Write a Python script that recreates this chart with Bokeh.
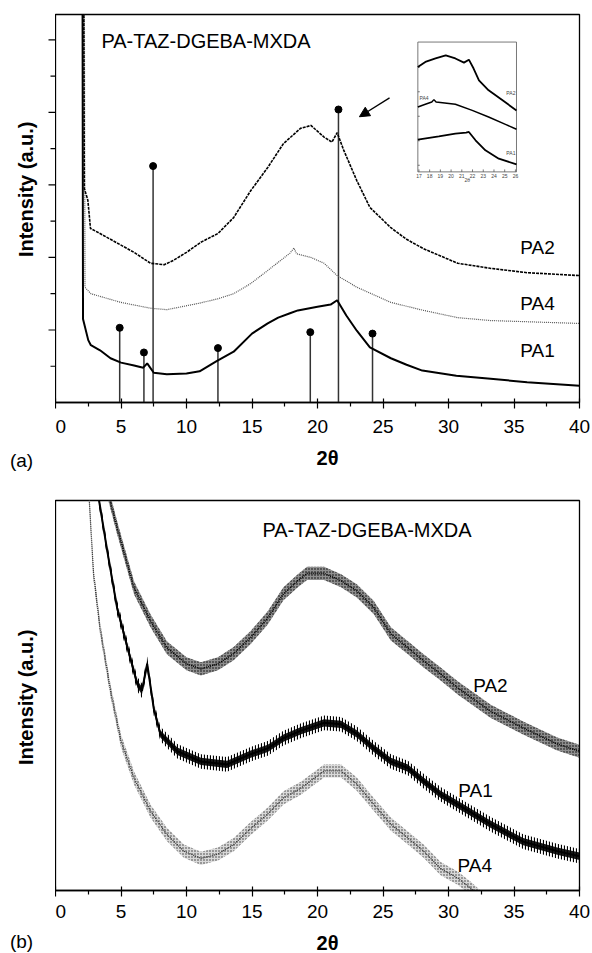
import numpy as np
from bokeh.plotting import figure
from bokeh.layouts import column, row
from bokeh.models import Range1d, FixedTicker, Arrow, NormalHead
from bokeh.embed import file_html
from bokeh.resources import INLINE
from bokeh.core.properties import value

FONT = "Liberation Sans"

# ---------------- data: panel (a) ----------------
a_pa1_x = [2.06, 2.1, 2.5, 2.7, 3.4, 4.2, 5.0, 6.0, 6.7, 7.0, 7.5, 8.5, 10.0, 11.0, 12.3, 13.6,
           15.0, 16.2, 17.0, 17.9, 18.5, 20.0, 21.0, 21.5, 22.2, 23.0, 24.0, 25.6, 26.8, 28.0, 30.6,
           33.0, 36.0, 40.0]
a_pa1_y = [6.0, 1.15, 0.86, 0.79, 0.72, 0.61, 0.55, 0.51, 0.48, 0.54, 0.41, 0.39, 0.40, 0.43, 0.57, 0.70,
           0.95, 1.09, 1.17, 1.23, 1.27, 1.32, 1.35, 1.41, 1.20, 0.99, 0.76, 0.61, 0.52, 0.44, 0.37,
           0.33, 0.28, 0.23]

a_pa2_x = [2.15, 2.2, 2.47, 2.67, 3.4, 5.0, 6.0, 7.25, 8.3, 9.0, 10.0, 11.1, 12.4, 13.6, 14.9, 16.2,
           17.4, 18.7, 19.5, 20.5, 21.1, 21.5, 22.0, 23.0, 24.0, 25.6, 26.8, 28.1, 30.7, 33.2, 36.0, 40.0]
a_pa2_y = [6.0, 2.95, 2.79, 2.40, 2.33, 2.17, 2.07, 1.92, 1.90, 1.96, 2.07, 2.21, 2.33, 2.55, 2.92, 3.24,
           3.57, 3.78, 3.82, 3.66, 3.59, 3.72, 3.48, 3.06, 2.69, 2.41, 2.25, 2.12, 1.92, 1.85, 1.79, 1.75]

a_pa4_x = [2.2, 2.25, 2.7, 5.0, 7.25, 8.5, 11.0, 12.4, 13.6, 14.9, 16.2, 17.9, 18.2, 18.4, 19.5, 20.5,
           21.5, 23.0, 25.6, 28.1, 30.7, 33.2, 40.0]
a_pa4_y = [6.0, 1.59, 1.50, 1.38, 1.30, 1.28, 1.37, 1.43, 1.50, 1.64, 1.82, 2.06, 2.13, 2.05, 2.00, 1.92,
           1.75, 1.59, 1.38, 1.27, 1.17, 1.13, 1.09]

stick_x = [4.9, 6.75, 7.45, 12.4, 19.45, 21.6, 24.2]
stick_h = [1.03, 0.69, 3.26, 0.75, 0.97, 4.04, 0.95]

# inset (17-26 deg zoom)
in_pa2_x = [16.9, 17.6, 18.55, 19.5, 20.4, 21.2, 21.66, 22.1, 22.6, 23.5, 24.8, 26.1]
in_pa2_y = [5.01, 5.22, 5.36, 5.49, 5.36, 5.19, 5.31, 4.95, 4.47, 4.06, 3.65, 3.24]
in_pa4_x = [16.9, 17.6, 18.2, 18.4, 18.6, 20.4, 21.97, 23.5, 25.07, 26.1]
in_pa4_y = [3.38, 3.49, 3.58, 3.68, 3.58, 3.49, 3.24, 2.97, 2.67, 2.47]
in_pa1_x = [16.9, 18.86, 20.4, 21.4, 21.66, 22.28, 23.2, 24.45, 26.1]
in_pa1_y = [2.05, 2.18, 2.29, 2.33, 2.36, 2.02, 1.61, 1.27, 1.04]
in_x_ticks = [17, 18, 19, 20, 21, 22, 23, 24, 25, 26]
in_y_ticks = [1, 2, 3, 4, 5]

# ---------------- data: panel (b) ----------------
b_pa2_x = [3.8, 4.7, 6.0, 7.25, 8.5, 10.0, 11.1, 12.4, 13.6, 14.9, 16.2, 17.4, 18.5, 19.2, 20.5,
           21.8, 23.0, 24.3, 25.6, 26.9, 28.1, 29.4, 30.7, 33.2, 35.7, 38.3, 40.0]
b_pa2_y = [5.6, 4.98, 4.15, 3.70, 3.33, 3.11, 3.04, 3.11, 3.25, 3.47, 3.74, 4.07, 4.25, 4.35, 4.35,
           4.25, 4.11, 3.88, 3.52, 3.33, 3.15, 2.97, 2.78, 2.46, 2.23, 2.01, 1.91]

b_pa1_x = [3.1, 3.95, 4.7, 5.5, 6.25, 6.6, 7.0, 7.5, 8.0, 9.3, 11.1, 13.1, 14.9, 16.2, 17.4, 18.7,
           20.5, 21.8, 23.0, 24.3, 25.6, 26.9, 28.1, 29.4, 30.7, 33.2, 35.7, 38.3, 40.0]
b_pa1_y = [5.6, 4.66, 3.88, 3.33, 2.83, 2.74, 3.11, 2.50, 2.15, 1.91, 1.77, 1.73, 1.87, 1.95, 2.09, 2.19,
           2.30, 2.28, 2.15, 1.95, 1.77, 1.68, 1.50, 1.32, 1.18, 0.91, 0.67, 0.54, 0.47]

b_pa4_x = [2.5, 2.9, 3.4, 4.2, 5.0, 6.0, 7.25, 8.5, 9.8, 11.1, 12.4, 13.6, 14.9, 16.2, 17.4, 18.7,
           20.5, 21.8, 23.0, 24.3, 25.6, 26.9, 28.1, 29.4, 30.7, 31.7, 32.5]
b_pa4_y = [5.6, 4.35, 3.60, 2.74, 2.05, 1.54, 1.09, 0.77, 0.54, 0.44, 0.50, 0.63, 0.85, 1.05, 1.27, 1.40,
           1.64, 1.64, 1.46, 1.18, 0.91, 0.72, 0.54, 0.30, 0.17, 0.03, -0.1]

x_ticks = [0, 5, 10, 15, 20, 25, 30, 35, 40]
x_minor = [2.5, 7.5, 12.5, 17.5, 22.5, 27.5, 32.5, 37.5]
y_ticks = [1, 2, 3, 4, 5]
y_minor = [0.5, 1.5, 2.5, 3.5, 4.5]

title_text = "PA-TAZ-DGEBA-MXDA"
ylabel_text = "Intensity (a.u.)"
xlabel_text = "2θ"


def main_fig(height, top, bottom, y_range):
    p = figure(width=537, height=height, x_range=Range1d(0, 40), y_range=y_range,
               output_backend="svg", toolbar_location=None, y_axis_location=None,
               min_border_left=0, min_border_right=13, min_border_top=top, min_border_bottom=bottom)
    p.xgrid.visible = False
    p.ygrid.visible = False
    p.outline_line_color = "black"
    p.outline_line_width = 1.3
    xa = p.xaxis[0]
    xa.ticker = FixedTicker(ticks=x_ticks, minor_ticks=x_minor)
    xa.major_label_text_font = FONT
    xa.major_label_text_font_size = "19px"
    xa.major_label_text_color = "black"
    xa.axis_line_color = "black"
    xa.axis_line_width = 1.3
    xa.major_tick_in = 4
    xa.major_tick_out = 6
    xa.minor_tick_in = 0
    xa.minor_tick_out = 4
    xa.major_tick_line_color = "black"
    xa.minor_tick_line_color = "black"
    xa.major_tick_line_width = 1.2
    xa.minor_tick_line_width = 1.2
    return p


def side_fig(height, top, bottom, y_range):
    s = figure(width=55, height=height, x_range=Range1d(0, 55), y_range=y_range,
               output_backend="svg", toolbar_location=None, x_axis_location=None, y_axis_location=None,
               min_border_left=0, min_border_right=0, min_border_top=top, min_border_bottom=bottom)
    s.xgrid.visible = False
    s.ygrid.visible = False
    s.outline_line_color = None
    return s


def strip_fig(height):
    s = figure(width=592, height=height, x_range=Range1d(0, 592), y_range=Range1d(height, 0),
               output_backend="svg", toolbar_location=None, x_axis_location=None, y_axis_location=None,
               min_border=0)
    s.xgrid.visible = False
    s.ygrid.visible = False
    s.outline_line_color = None
    return s


def txt(p, x, y, text, size="19px", bold=False, align="center", angle=0.0):
    p.text(x=[x], y=[y], text=[text], text_font=value(FONT), text_font_size=size,
           text_font_style="bold" if bold else "normal", text_align=align,
           text_baseline="middle", angle=angle, text_color="black")


# ================= panel (a) =================
yr_a = Range1d(0, 5.35)
pa = main_fig(445, 14, 43, yr_a)
pa.xaxis[0].major_label_standoff = 11

pa.segment(x0=stick_x, y0=[0] * len(stick_x), x1=stick_x, y1=stick_h, line_color="#333333", line_width=1.5)
pa.line(a_pa4_x, a_pa4_y, line_color="#555555", line_width=1.2, line_dash="1 1")
pa.line(a_pa2_x, a_pa2_y, line_color="black", line_width=1.6, line_dash="3 1")
pa.line(a_pa1_x, a_pa1_y, line_color="black", line_width=2.0)
pa.scatter(stick_x, stick_h, size=7, fill_color="black", line_color="black")

txt(pa, 11.49, 4.99, title_text, size="20px")
txt(pa, 36.8, 2.14, "PA2")
txt(pa, 36.8, 1.37, "PA4")
txt(pa, 36.8, 0.72, "PA1")

pa.add_layout(Arrow(end=NormalHead(size=10, fill_color="black", line_color="black"),
                    x_start=25.5, y_start=4.2, x_end=23.2, y_end=3.94,
                    line_color="black", line_width=1.3))

# inset
ins = pa.subplot(x_source=Range1d(16.9, 26.1), y_source=Range1d(0.73, 6.03),
                 x_target=Range1d(27.66, 35.19), y_target=Range1d(3.18, 4.97))
ins.quad(left=[16.9], right=[26.1], bottom=[0.73], top=[6.03], fill_color=None,
         line_color="#555555", line_width=0.8)
ins.segment(x0=in_x_ticks, y0=[0.73] * len(in_x_ticks), x1=in_x_ticks, y1=[0.83] * len(in_x_ticks),
            line_color="#555555", line_width=0.8)
ins.segment(x0=[16.9] * len(in_y_ticks), y0=in_y_ticks, x1=[17.08] * len(in_y_ticks), y1=in_y_ticks,
            line_color="#555555", line_width=0.8)
ins.text(x=in_x_ticks, y=[0.56] * len(in_x_ticks), text=[str(t) for t in in_x_ticks],
         text_font=value(FONT), text_font_size="5px", text_align="center", text_baseline="middle",
         text_color="#444444")
ins.text(x=[21.5], y=[0.38], text=[xlabel_text], text_font=value(FONT), text_font_size="5px",
         text_align="center", text_baseline="middle", text_color="#444444")
ins.line(in_pa2_x, in_pa2_y, line_color="black", line_width=1.8)
ins.line(in_pa4_x, in_pa4_y, line_color="black", line_width=1.5)
ins.line(in_pa1_x, in_pa1_y, line_color="black", line_width=1.8)
ins.text(x=[26.0, 17.05, 26.0], y=[3.95, 3.73, 1.5], text=["PA2", "PA4", "PA1"],
         text_font=value(FONT), text_font_size="5px", text_align=["right", "left", "right"],
         text_baseline="middle", text_color="#444444")

# left side of (a): y ticks + y label
sa = side_fig(445, 14, 43, yr_a)
sa.segment(x0=[48] * len(y_ticks), y0=y_ticks, x1=[55] * len(y_ticks), y1=y_ticks,
           line_color="black", line_width=1.2)
sa.segment(x0=[50] * len(y_minor), y0=y_minor, x1=[55] * len(y_minor), y1=y_minor,
           line_color="black", line_width=1.2)
txt(sa, 25, 2.94, ylabel_text, size="20px", bold=True, angle=np.pi / 2)

# strip under (a)
ta = strip_fig(35)
txt(ta, 327, 12, xlabel_text, size="20px", bold=True)
txt(ta, 21, 15, "(a)", size="19px")

# ================= panel (b) =================
yr_b = Range1d(0, 5.35)
pb = main_fig(450, 20, 40, yr_b)
pb.xaxis[0].major_label_standoff = 8

# noisy scans drawn as a textured band around the read trace
band = 0.09
for xs, ys, hc, fc, fa, lc, lw in [
    (b_pa4_x, b_pa4_y, "#333333", "#aaaaaa", 0.45, "#333333", 1.3),
    (b_pa2_x, b_pa2_y, "#000000", "#444444", 0.6, "#000000", 1.6),
]:
    yarr = np.array(ys)
    pb.varea(x=xs, y1=yarr - band, y2=yarr + band, fill_color=fc, fill_alpha=fa,
             hatch_pattern="dot", hatch_color=hc, hatch_scale=3, hatch_weight=1.6)
    pb.line(xs, ys, line_color=lc, line_width=lw, line_dash="1 1")
yarr1 = np.array(b_pa1_y)
pb.varea(x=b_pa1_x, y1=yarr1 - 0.1, y2=yarr1 + 0.1, fill_color=None,
         hatch_pattern="vertical_line", hatch_color="black", hatch_scale=3, hatch_weight=1.2)
pb.varea(x=b_pa1_x, y1=yarr1 - 0.05, y2=yarr1 + 0.05, fill_color="black", fill_alpha=0.9)
pb.line(b_pa1_x, b_pa1_y, line_color="black", line_width=2.0)

txt(pb, 23.78, 4.95, title_text, size="20px")
txt(pb, 33.2, 2.81, "PA2")
txt(pb, 32.06, 1.37, "PA1")
txt(pb, 32.0, 0.34, "PA4")

sb = side_fig(450, 20, 40, yr_b)
txt(sb, 25, 2.65, ylabel_text, size="20px", bold=True, angle=np.pi / 2)

tb = strip_fig(23)
txt(tb, 327, 12, xlabel_text, size="20px", bold=True)
txt(tb, 21, 11, "(b)", size="19px")

layout = column(row(sa, pa, spacing=0), ta, row(sb, pb, spacing=0), tb, spacing=0)
open("out.html", "w").write(file_html(layout, INLINE))
